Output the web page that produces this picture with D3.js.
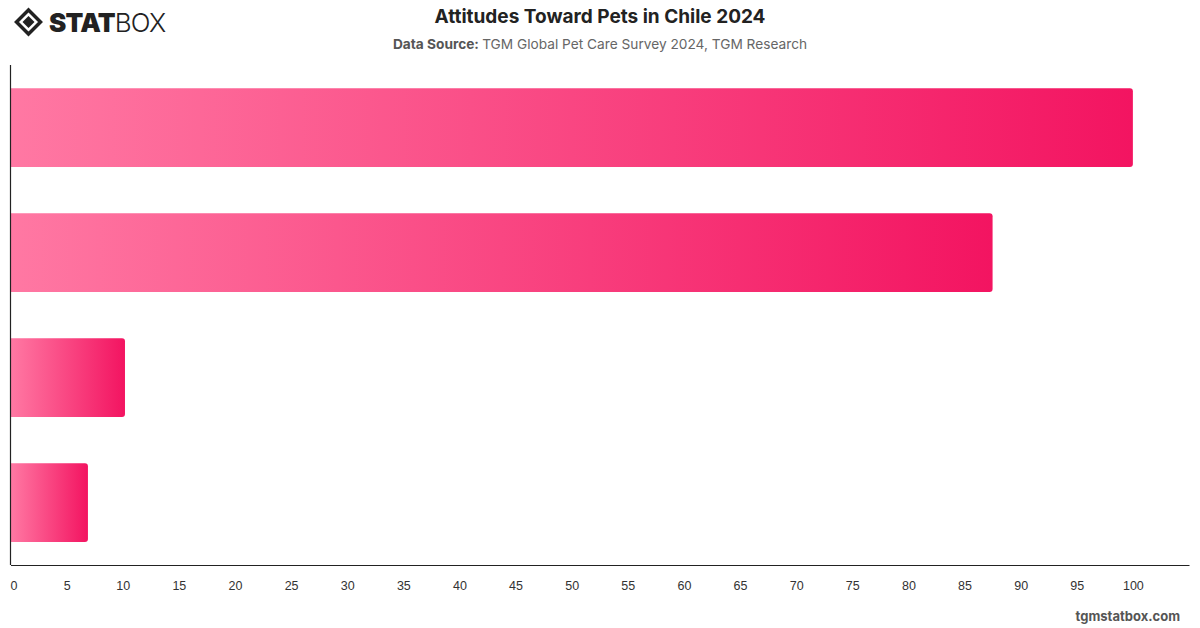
<!DOCTYPE html>
<html>
<head>
<meta charset="utf-8">
<script src="https://cdn.jsdelivr.net/npm/d3@7"></script>
<style>
  body { margin: 0; background: #fff; }
  svg { display: block; font-family: Inter, "Helvetica Neue", Arial, sans-serif; }
</style>
</head>
<body>
<div id="chart"></div>
<script>
// data (category labels are not shown in the chart)
var categories = ["Attitude 1", "Attitude 2", "Attitude 3", "Attitude 4"];
var values = [100, 87.5, 10.2, 6.9];
var ticks = [0, 5, 10, 15, 20, 25, 30, 35, 40, 45, 50, 55, 60, 65, 70, 75, 80, 85, 90, 95, 100];

var w = 1200, h = 628;
var margin = {top: 65, right: 11, bottom: 63, left: 10.5};

var svg = d3.select("#chart").append("svg")
    .attr("width", w)
    .attr("height", h);

var defs = svg.append("defs");
var grad = defs.append("linearGradient")
    .attr("id", "barGrad")
    .attr("x1", "0%").attr("x2", "100%")
    .attr("y1", "0%").attr("y2", "0%");
grad.append("stop").attr("offset", "0%").attr("stop-color", "#ff78a3");
grad.append("stop").attr("offset", "100%").attr("stop-color", "#f31461");

var x = d3.scaleLinear()
    .domain([0, 105])
    .range([margin.left, w - margin.right]);

var y = d3.scaleBand()
    .domain(categories)
    .range([margin.top, h - margin.bottom])
    .paddingInner(0.37)
    .paddingOuter(0.185);

// bars with rounded right end
function barPath(d, i) {
    var x0 = x(0) + 0.5, x1 = x(d), y0 = y(categories[i]), bh = y.bandwidth(), r = 3;
    return "M" + x0 + "," + y0 +
        "H" + (x1 - r) +
        "Q" + x1 + "," + y0 + " " + x1 + "," + (y0 + r) +
        "V" + (y0 + bh - r) +
        "Q" + x1 + "," + (y0 + bh) + " " + (x1 - r) + "," + (y0 + bh) +
        "H" + x0 + "Z";
}

svg.selectAll(".bar")
    .data(values)
    .enter()
    .append("path")
    .attr("class", "bar")
    .attr("d", barPath)
    .attr("fill", "url(#barGrad)");

// axes
var xAxis = d3.axisBottom(x)
    .tickValues(ticks)
    .tickSize(0)
    .tickPadding(16);

var gx = svg.append("g")
    .attr("transform", "translate(0," + (h - margin.bottom) + ")")
    .call(xAxis);
gx.select(".domain")
    .attr("stroke", "#222")
    .attr("stroke-width", 1.2);
gx.selectAll("text")
    .attr("fill", "#333")
    .style("font-size", "12.5px")
    .attr("dx", function(d) { return d === 0 ? 3 : 0; });

svg.append("line")
    .attr("x1", x(0)).attr("x2", x(0))
    .attr("y1", margin.top).attr("y2", h - margin.bottom)
    .attr("stroke", "#222")
    .attr("stroke-width", 1.2);

// title
svg.append("text")
    .attr("x", 600).attr("y", 23)
    .attr("text-anchor", "middle")
    .attr("fill", "#222")
    .style("font-size", "19px")
    .style("font-weight", "bold")
    .text("Attitudes Toward Pets in Chile 2024");

var sub = svg.append("text")
    .attr("x", 600).attr("y", 49)
    .attr("text-anchor", "middle")
    .attr("fill", "#666")
    .style("font-size", "13.7px");
sub.append("tspan").style("font-weight", "bold").attr("fill", "#555").text("Data Source: ");
sub.append("tspan").text("TGM Global Pet Care Survey 2024, TGM Research");

// logo
var logo = svg.append("g").attr("transform", "translate(28.5,22)");
logo.append("path")
    .attr("d", "M0,-12 L12,0 L0,12 L-12,0 Z")
    .attr("fill", "none")
    .attr("stroke", "#222")
    .attr("stroke-width", 3.5);
logo.append("path")
    .attr("d", "M0,-6 L6,0 L0,6 L-6,0 Z")
    .attr("fill", "#222");
svg.append("text")
    .attr("x", 49).attr("y", 32)
    .attr("fill", "#222")
    .style("font-size", "26px")
    .style("letter-spacing", "-0.8px")
    .call(function(t) {
        t.append("tspan").style("font-weight", "900").text("STAT");
        t.append("tspan").style("font-weight", "300").text("BOX");
    });

// watermark
svg.append("text")
    .attr("x", 1180).attr("y", 621)
    .attr("text-anchor", "end")
    .attr("fill", "#555")
    .style("font-size", "13px")
    .style("font-weight", "bold")
    .text("tgmstatbox.com");
</script>
</body>
</html>
